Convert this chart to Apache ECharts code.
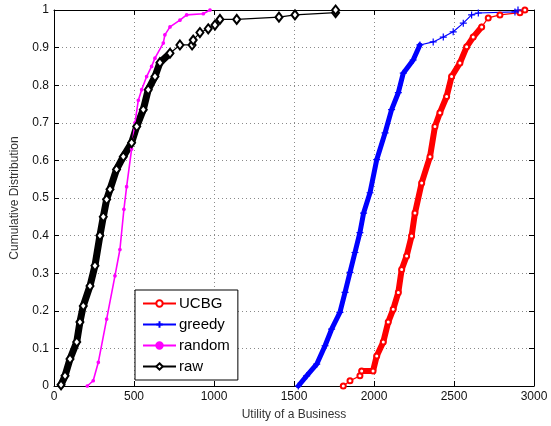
<!DOCTYPE html>
<html>
<head>
<meta charset="utf-8">
<script src="https://cdn.jsdelivr.net/npm/echarts@6/dist/echarts.min.js"></script>
<style>
  html, body { margin: 0; padding: 0; background: #fff; }
  #container { width: 551px; height: 426px; }
</style>
</head>
<body>
<div id="container"></div>
<script>
// CDF curves: [utility, cumulative fraction]
const ucbg = [
  [1808, 0], [1850, 0.014], [1912, 0.027], [1923, 0.04], [1994, 0.04], [2017, 0.08],
  [2058, 0.117], [2089, 0.17], [2120, 0.204], [2152, 0.249], [2173, 0.31], [2204, 0.346],
  [2235, 0.399], [2256, 0.46], [2298, 0.54], [2350, 0.61], [2381, 0.69], [2412, 0.727],
  [2454, 0.77], [2485, 0.823], [2537, 0.859], [2579, 0.902], [2620, 0.928], [2673, 0.955],
  [2714, 0.979], [2787, 0.987], [2912, 0.993], [2943, 1.0]
];
const greedy = [
  [1527, 0], [1579, 0.027], [1642, 0.058], [1694, 0.107], [1735, 0.151], [1787, 0.196],
  [1819, 0.249], [1850, 0.302], [1881, 0.355], [1912, 0.408], [1935, 0.46], [1975, 0.514],
  [2017, 0.602], [2069, 0.673], [2110, 0.735], [2152, 0.78], [2183, 0.832], [2245, 0.867],
  [2287, 0.907], [2370, 0.915], [2433, 0.928], [2495, 0.942], [2558, 0.965], [2610, 0.987],
  [2652, 0.992], [2881, 0.995], [2900, 1.0]
];
const random = [
  [208, 0], [245, 0.014], [277, 0.063], [329, 0.178], [381, 0.293], [412, 0.363],
  [437, 0.47], [454, 0.53], [485, 0.63], [506, 0.70], [527, 0.76], [548, 0.788],
  [579, 0.823], [610, 0.85], [631, 0.872], [683, 0.912], [693, 0.934], [725, 0.955],
  [787, 0.973], [829, 0.987], [933, 0.99], [975, 1.0]
];
const raw = [
  [44, 0.003], [69, 0.027], [100, 0.072], [142, 0.117], [162, 0.17], [183, 0.213],
  [225, 0.266], [256, 0.32], [287, 0.40], [308, 0.45], [329, 0.496], [350, 0.523],
  [391, 0.576], [433, 0.61], [485, 0.647], [517, 0.69], [558, 0.735], [589, 0.788],
  [631, 0.823], [662, 0.86], [725, 0.885], [787, 0.907], [863, 0.907], [870, 0.92],
  [912, 0.94], [964, 0.95], [1006, 0.96], [1037, 0.975], [1142, 0.975], [1406, 0.981],
  [1506, 0.987], [1760, 0.993], [1760, 1.0]
];
const legendNames = ['UCBG', 'greedy', 'random', 'raw'];
const xTicks = { min: 0, max: 3000, interval: 500 };
const yTicks = { min: 0, max: 1, interval: 0.1 };

(function () {
  const chart = echarts.init(document.getElementById('container'), null, { renderer: 'canvas' });
  const font = 'Liberation Sans, Arial, Helvetica, sans-serif';
  const plus = 'path://M0,5L10,5M5,0L5,10';

  // dense part of each curve looks like a thick band (overlapping markers)
  function band(data, lo, hi, color, width) {
    return {
      name: '_band', type: 'line', silent: true, showSymbol: false, symbol: 'none',
      data: data.filter(p => p[1] >= lo && p[1] <= hi),
      lineStyle: { color: color, width: width, join: 'round', cap: 'round' }, z: 2
    };
  }
  function marks(name, data, color, symbol, size, extra) {
    return Object.assign({
      name: name, type: 'line', data: data, symbol: symbol, symbolSize: size,
      showAllSymbol: true, silent: true,
      lineStyle: { color: color, width: 1.2 },
      itemStyle: { color: color, borderColor: color, borderWidth: 1.2 }, z: 3
    }, extra || {});
  }

  const gridLine = { show: true, lineStyle: { color: '#8a8a8a', type: [1, 3], width: 1 } };
  const boxAxis = (pos) => ({
    type: 'value', position: pos, ...(pos === 'top' ? xTicks : yTicks),
    axisLine: { show: true, onZero: false, lineStyle: { color: '#000', width: 1 } },
    axisTick: { show: true, inside: true, length: 5, lineStyle: { color: '#000' } },
    axisLabel: { show: false }, splitLine: { show: false }
  });

  chart.setOption({
    backgroundColor: '#fff',
    animation: false,
    textStyle: { fontFamily: font },
    grid: { left: 54, right: 17, top: 10, bottom: 39 },
    legend: {
      data: legendNames, orient: 'vertical', left: 135, top: 290,
      itemWidth: 33, itemHeight: 8, itemGap: 6, padding: [6, 8, 6, 7],
      borderColor: '#000', borderWidth: 1, backgroundColor: '#fff',
      textStyle: { fontSize: 15, color: '#000', fontFamily: font, padding: [0, 0, 0, -2] },
      selectedMode: false
    },
    xAxis: [{
      type: 'value', ...xTicks,
      name: 'Utility of a Business', nameLocation: 'middle', nameGap: 23,
      nameTextStyle: { fontSize: 12, color: '#333', fontFamily: font },
      axisLine: { show: true, onZero: false, lineStyle: { color: '#000', width: 1 } },
      axisTick: { show: true, inside: true, length: 5, lineStyle: { color: '#000' } },
      axisLabel: { fontSize: 12, color: '#111', margin: 5, fontFamily: font, formatter: v => String(v) },
      splitLine: gridLine
    }, boxAxis('top')],
    yAxis: [{
      type: 'value', ...yTicks,
      name: 'Cumulative Distribution', nameLocation: 'middle', nameGap: 33,
      nameTextStyle: { fontSize: 12, color: '#333', fontFamily: font },
      axisLine: { show: true, onZero: false, lineStyle: { color: '#000', width: 1 } },
      axisTick: { show: true, inside: true, length: 5, lineStyle: { color: '#000' } },
      axisLabel: { fontSize: 12, color: '#111', margin: 5, fontFamily: font, formatter: v => String(v) },
      splitLine: gridLine
    }, boxAxis('right')],
    series: [
      band(ucbg, 0.04, 0.956, '#ff0000', 6),
      marks('UCBG', ucbg, '#ff0000', 'emptyCircle', 5),
      band(greedy, 0, 0.908, '#0000ff', 5),
      marks('greedy', greedy, '#0000ff', plus, 7),
      marks('random', random, '#ff00ff', 'circle', 2.5, { lineStyle: { color: '#ff00ff', width: 1.6 } }),
      band(raw, 0, 0.886, '#000000', 7),
      marks('raw', raw, '#000000', 'emptyDiamond', [7, 9])
    ]
  });
})();
</script>
</body>
</html>
